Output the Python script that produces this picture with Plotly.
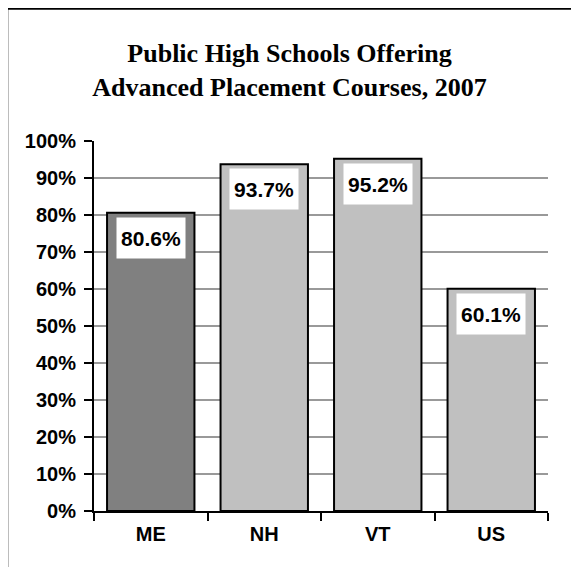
import plotly.graph_objects as go

# data
states = ["ME", "NH", "VT", "US"]
share = [0.806, 0.937, 0.952, 0.601]
bar_colors = ["#808080", "#C0C0C0", "#C0C0C0", "#C0C0C0"]
y_ticks = [i / 10 for i in range(11)]

# the page body adds an 8px margin, so the figure is 8px smaller
W, H = 571, 559

fig = go.Figure()
fig.add_trace(go.Bar(
    x=states, y=share,
    marker=dict(color=bar_colors, line=dict(color="black", width=2)),
    hoverinfo="skip",
))

# white value boxes just under the top of each bar
for s, v in zip(states, share):
    fig.add_annotation(
        x=s, y=v, yanchor="top", yshift=-4,
        text=f"{v * 100:.1f}%", showarrow=False,
        font=dict(family="Liberation Sans", size=21, color="black", weight="bold"),
        bgcolor="white", width=66, height=38,
    )

# frame of the original chart: only top and left edges are in view
fig.add_shape(type="line", xref="paper", yref="paper",
              x0=-0.1916, x1=1.2, y0=1.358, y1=1.358,
              line=dict(color="black", width=2.5))
fig.add_shape(type="line", xref="paper", yref="paper",
              x0=-0.1916, x1=-0.1916, y0=-0.3, y1=1.358,
              line=dict(color="black", width=2.5))

fig.update_layout(
    width=W, height=H,
    margin=dict(l=86, r=31, t=133, b=56),
    paper_bgcolor="white", plot_bgcolor="white",
    bargap=0.23, showlegend=False,
    title=dict(
        text="Public High Schools Offering<br>Advanced Placement Courses, 2007",
        x=(289.5 - 8) / W, xanchor="center", xref="container",
        y=1 - 54 / H, yanchor="middle", yref="container",
        font=dict(family="Liberation Serif", size=26, color="black", weight="bold"),
    ),
    xaxis=dict(
        showline=True, linecolor="black", linewidth=2,
        ticks="outside", tickson="boundaries", ticklen=8, tickwidth=2, tickcolor="black",
        tickfont=dict(family="Liberation Sans", size=20, color="black", weight="bold"),
        ticklabelstandoff=4, showgrid=False,
    ),
    yaxis=dict(
        range=[0, 1], tickvals=y_ticks, tickformat=".0%",
        showline=True, linecolor="black", linewidth=2,
        ticks="outside", ticklen=8, tickwidth=2, tickcolor="black",
        tickfont=dict(family="Liberation Sans", size=20, color="black", weight="bold"),
        ticklabelstandoff=4,
        showgrid=True, gridcolor="#999999", gridwidth=1.5,
        zeroline=False,
    ),
)

fig.write_html("out.html")
